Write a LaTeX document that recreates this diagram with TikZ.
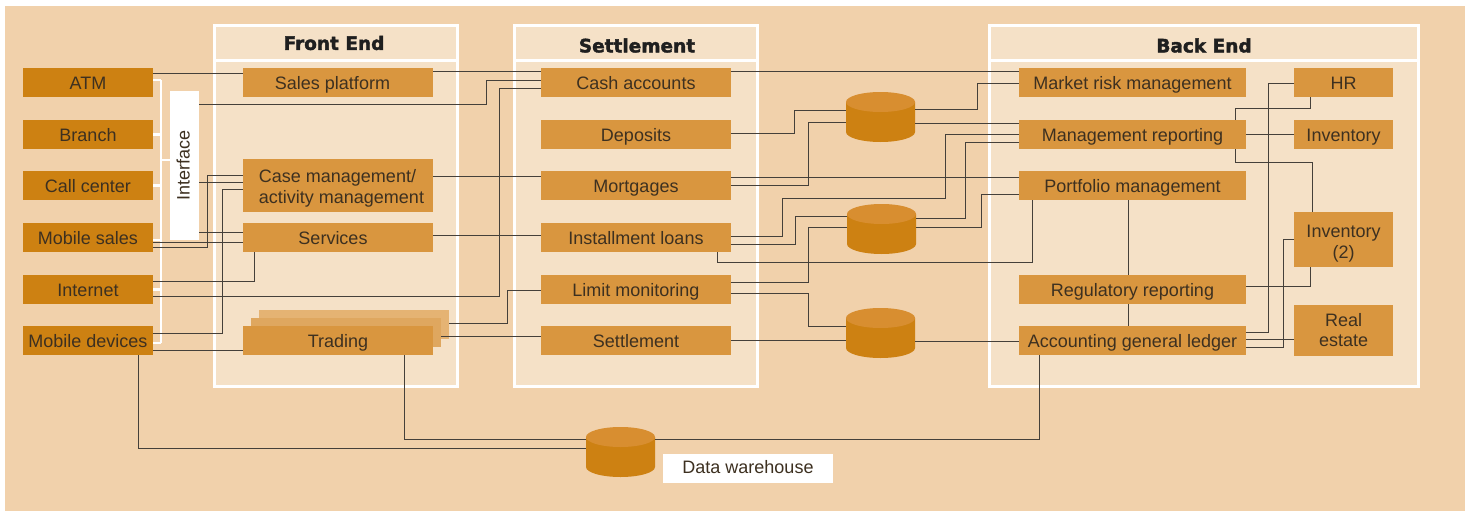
\documentclass[tikz,border=0pt]{standalone}
\usepackage{fontspec}
\setmainfont{Liberation Sans}
\newfontfamily\ttlfont[FakeBold=2]{DejaVu Sans Bold}
\definecolor{pagebg}{HTML}{F1D1AB}
\definecolor{framebg}{HTML}{F5E1C7}
\definecolor{lightbox}{HTML}{D9963F}
\definecolor{darkbox}{HTML}{CD8112}
\definecolor{stackA}{HTML}{E5B373}
\definecolor{stackB}{HTML}{DFA75F}
\definecolor{cyltop}{HTML}{D88E30}
\definecolor{linec}{HTML}{45403A}
\definecolor{textc}{HTML}{3D3020}
\tikzset{
  basebox/.style={inner sep=0pt,outer sep=0pt,align=center,text=textc,text height=18pt,text depth=4.4pt,font=\fontsize{18}{20.6}\selectfont},
  src/.style={basebox,fill=darkbox,minimum width=130pt,minimum height=29pt},
  mid/.style={basebox,fill=lightbox,minimum width=190pt,minimum height=29pt},
  back/.style={basebox,fill=lightbox,minimum width=227pt,minimum height=29pt},
  side/.style={basebox,fill=lightbox,minimum width=99pt,minimum height=29pt},
  frame/.style={inner sep=0pt,outer sep=0pt,fill=framebg,draw=white,line width=2.6pt,minimum height=361pt},
  title/.style={inner sep=0pt,text=black!88,font=\ttlfont\fontsize{18.5}{20}\selectfont},
  dbbox/.style={inner sep=0pt,outer sep=0pt,minimum width=69pt,minimum height=50pt},
  wire/.style={draw=linec,line width=1pt},
  bus/.style={draw=white,line width=2.4pt},
}
% a database: a named box with the cylinder drawn in it
\newcommand{\dbnode}[3]{%
  \node[dbbox] (#1) at (#2,#3) {};
  \fill[darkbox] (#1.west |- 0,#3-15) -- (#1.west |- 0,#3+15)
     arc[start angle=180,end angle=360,x radius=34.5pt,y radius=10pt]
     -- (#1.east |- 0,#3-15) -- cycle;
  \fill[cyltop] (#1.center |- 0,#3-15) circle[x radius=34.5pt,y radius=10pt];
}
\begin{document}
\begin{tikzpicture}[x=1pt,y=-1pt]
\useasboundingbox (0,0) rectangle (1472,511);
\fill[pagebg] (5,6) rectangle (1465,511);

% frames
\node[frame,minimum width=243pt] (fe) at (336,206) {};
\node[frame,minimum width=243pt] (se) at (636,206) {};
\node[frame,minimum width=429.5pt] (be) at (1204,206) {};
\draw[bus] (fe.west |- 0,60.5) -- (fe.east |- 0,60.5);
\draw[bus] (se.west |- 0,60.5) -- (se.east |- 0,60.5);
\draw[bus] (be.west |- 0,60.5) -- (be.east |- 0,60.5);
\node[title] (tfe) at (334,43) {Front End};
\node[title] (tse) at (637,45.5) {Settlement};
\node[title] (tbe) at (1204,45.5) {Back End};

% sources
\node[src] (atm) at (88,82.5) {ATM};
\node[src] (branch) at (88,134.5) {Branch};
\node[src] (call) at (88,185.5) {Call center};
\node[src] (msales) at (88,237.5) {Mobile sales};
\node[src] (inet) at (88,289.5) {Internet};
\node[src] (mdev) at (88,340.5) {Mobile devices};
\node[basebox,fill=white,minimum width=149pt,minimum height=29pt,rotate=90,text height=14pt,text depth=4pt] (iface) at (184.5,165.5) {Interface};

% interface bus
\coordinate (bustop) at (161,80);
\coordinate (busbot) at (161,343);
\draw[bus] (bustop) -- (busbot);
\draw[bus] (atm.east |- bustop) -- (bustop);
\draw[bus] (branch.east) -- (branch.east -| bustop);
\draw[bus] (call.east) -- (call.east -| bustop);
\draw[bus] (msales.east |- 0,240) -- (bustop |- 0,240);
\draw[bus] (inet.east) -- (inet.east -| bustop);
\draw[bus] (mdev.east |- busbot) -- (busbot);
\draw[bus] (bustop |- 0,160) -- (iface.north |- 0,160);

% front end
\node[mid] (sales) at (338,82.5) {Sales platform\hspace*{11pt}};
\node[mid,minimum height=53pt,text height=14pt,text depth=19.6pt] (case) at (338,185.5) {\hspace*{7pt}\begin{tabular}[t]{@{}l@{}}Case management/\\activity management\end{tabular}};
\node[mid] (serv) at (338,237.5) {Services\hspace*{10pt}};
\node[mid,fill=stackA] (t3) at (354,324.5) {};
\node[mid,fill=stackB] (t2) at (346,332.5) {};
\node[mid] (trade) at (338,340.5) {Trading};

% settlement
\node[mid] (cash) at (636,82.5) {Cash accounts};
\node[mid] (dep) at (636,134.5) {Deposits};
\node[mid] (mort) at (636,185.5) {Mortgages};
\node[mid] (inst) at (636,237.5) {Installment loans};
\node[mid] (limit) at (636,289.5) {Limit monitoring};
\node[mid] (settle) at (636,340.5) {Settlement};

% back end
\node[back] (market) at (1132.5,82.5) {Market risk management};
\node[back] (mgmt) at (1132.5,134.5) {Management reporting};
\node[back] (port) at (1132.5,185.5) {Portfolio management};
\node[back] (reg) at (1132.5,289.5) {Regulatory reporting};
\node[back] (acct) at (1132.5,340.5) {Accounting general ledger};
\node[side] (hr) at (1343.5,82.5) {HR};
\node[side] (inv) at (1343.5,134.5) {Inventory};
\node[side,minimum height=55pt,text height=14pt,text depth=17.6pt] (inv2) at (1343.5,239.5) {\begin{tabular}[t]{@{}c@{}}Inventory\\(2)\end{tabular}};
\node[side,minimum height=51pt,text height=14pt,text depth=23pt] (real) at (1343.5,330.5) {\begin{tabular}[t]{@{}c@{}}Real\\estate\end{tabular}};

% databases
\dbnode{c1}{880.5}{117}
\dbnode{c2}{881.5}{229}
\dbnode{c3}{880.5}{333}
\dbnode{c4}{620.5}{452}
\node[basebox,fill=white,minimum width=170pt,minimum height=29pt,text height=14pt] (dw) at (748,468.5) {Data warehouse};

% connectors: left
\draw[wire] (atm.east |- 0,74) -- (sales.west |- 0,74);
\draw[wire] (iface.south |- 0,182) -- (case.west |- 0,182);
\draw[wire] (msales.east |- 0,247) -- (207,247) -- (207,175) -- (case.west |- 0,175);
\draw[wire] (iface.south |- 0,232) -- (serv.west |- 0,232);
\draw[wire] (msales.east |- 0,242) -- (serv.west |- 0,242);
\draw[wire] (inet.east |- 0,281) -- (254,281) -- (serv.south -| 254,0);
\draw[wire] (mdev.east |- 0,333) -- (222,333) -- (222,189) -- (case.west |- 0,189);
\draw[wire] (mdev.east |- 0,350.5) -- (trade.west |- 0,350.5);

% connectors: front end to settlement
\draw[wire] (sales.east |- 0,72) -- (cash.west |- 0,72);
\draw[wire] (iface.south |- 0,104) -- (486.5,104) -- (486.5,80.5) -- (cash.west |- 0,80.5);
\draw[wire] (inet.east |- 0,296) -- (499,296) -- (499,88.5) -- (cash.west |- 0,88.5);
\draw[wire] (case.east |- 0,176) -- (mort.west |- 0,176);
\draw[wire] (serv.east |- 0,235) -- (inst.west |- 0,235);
\draw[wire] (t3.east |- 0,323) -- (507,323) -- (507,290.5) -- (limit.west |- 0,290.5);
\draw[wire] (t2.east |- 0,336) -- (settle.west |- 0,336);

% connectors: settlement to back end
\draw[wire] (cash.east |- 0,72) -- (market.west |- 0,72);
\draw[wire] (dep.east |- 0,133) -- (794,133) -- (794,110) -- (c1.west |- 0,110);
\draw[wire] (mort.east |- 0,185) -- (808,185) -- (808,122) -- (c1.west |- 0,122);
\draw[wire] (mort.east |- 0,177) -- (port.west |- 0,177);
\draw[wire] (c1.east |- 0,109) -- (977,109) -- (977,83) -- (market.west |- 0,83);
\draw[wire] (c1.east |- 0,123) -- (mgmt.west |- 0,123);
\draw[wire] (inst.east |- 0,236) -- (782,236) -- (782,198) -- (945.5,198) -- (945.5,134) -- (mgmt.west |- 0,134);
\draw[wire] (inst.east |- 0,244) -- (795,244) -- (795,216) -- (c2.west |- 0,216);
\draw[wire] (c2.east |- 0,218) -- (965,218) -- (965,142) -- (mgmt.west |- 0,142);
\draw[wire] (c2.east |- 0,227) -- (981.5,227) -- (981.5,194) -- (port.west |- 0,194);
\draw[wire] (inst.south -| 717.5,0) -- (717.5,262) -- (1032,262) -- (port.south -| 1032,0);
\draw[wire] (limit.east |- 0,282) -- (808,282) -- (808,227) -- (c2.west |- 0,227);
\draw[wire] (limit.east |- 0,293) -- (808.5,293) -- (808.5,326) -- (c3.west |- 0,326);
\draw[wire] (settle.east |- 0,340) -- (c3.west |- 0,340);
\draw[wire] (c3.east |- 0,341) -- (acct.west |- 0,341);

% connectors: back end
\draw[wire] (hr.south -| 1310,0) -- (1310,108) -- (1235,108) -- (mgmt.north -| 1235,0);
\draw[wire] (mgmt.east) -- (inv.west);
\draw[wire] (mgmt.south -| 1235,0) -- (1235,162) -- (1312,162) -- (inv2.north -| 1312,0);
\draw[wire] (hr.west |- 0,83) -- (1268,83) -- (1268,332) -- (acct.east |- 0,332);
\draw[wire] (inv2.west) -- (1283,239.5) -- (1283,347) -- (acct.east |- 0,347);
\draw[wire] (acct.east |- 0,339) -- (real.west |- 0,339);
\draw[wire] (reg.east |- 0,286) -- (1310,286) -- (inv2.south -| 1310,0);
\draw[wire] (port.south -| 1128,0) -- (reg.north -| 1128,0);
\draw[wire] (reg.south -| 1128,0) -- (acct.north -| 1128,0);

% connectors: warehouse
\draw[wire] (acct.south -| 1039,0) -- (1039,439) -- (c4.east |- 0,439);
\draw[wire] (trade.south -| 404,0) -- (404,439) -- (c4.west |- 0,439);
\draw[wire] (mdev.south -| 138,0) -- (138,448) -- (c4.west |- 0,448);
\end{tikzpicture}
\end{document}
